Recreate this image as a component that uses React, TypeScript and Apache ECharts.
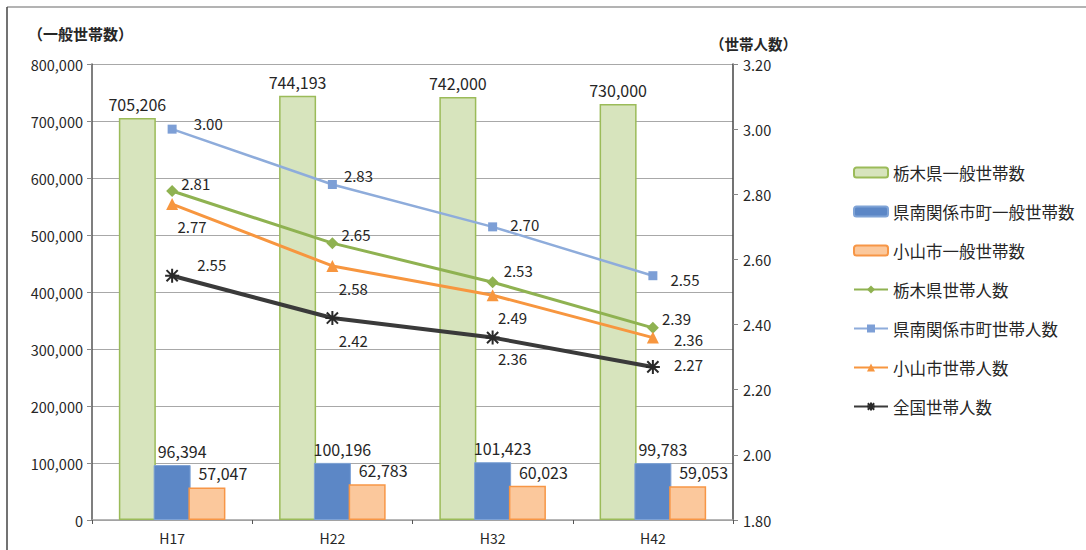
import React, { useEffect, useRef } from "react";
import * as echarts from "echarts";

const categories = ["H17", "H22", "H32", "H42"];
const tochigiHouseholds = [705206, 744193, 742000, 730000];
const kennanHouseholds = [96394, 100196, 101423, 99783];
const oyamaHouseholds = [57047, 62783, 60023, 59053];
const tochigiPersons = [2.81, 2.65, 2.53, 2.39];
const kennanPersons = [3.0, 2.83, 2.7, 2.55];
const oyamaPersons = [2.77, 2.58, 2.49, 2.36];
const nationalPersons = [2.55, 2.42, 2.36, 2.27];

const seriesNames = [
  "栃木県一般世帯数",
  "県南関係市町一般世帯数",
  "小山市一般世帯数",
  "栃木県世帯人数",
  "県南関係市町世帯人数",
  "小山市世帯人数",
  "全国世帯人数",
];

const leftTicks = { min: 0, max: 800000, interval: 100000 };
const rightTicks = { min: 1.8, max: 3.2, interval: 0.2 };

const FONT = "'Noto Sans CJK JP', 'Noto Sans', sans-serif";
const TXT = "#262626";

const asterisk =
  "path://M1,1 L9,9 M9,1 L1,9 M5,0 L5,10 M0,5 L10,5";

type Place = { position: string; offset: [number, number] };

const R = (ox: number, oy: number): Place => ({ position: "right", offset: [ox, oy] });
const B = (ox: number, oy: number): Place => ({ position: "bottom", offset: [ox, oy] });

const greenPlace: Place[] = [R(-2, -8), R(-2, -9), R(0, -12), R(-2, -9)];
const bluePlace: Place[] = [R(12, -6), R(2, -9), R(8, -2), R(8, 4)];
const orangePlace: Place[] = [B(20, 4), B(21, 4), B(20, 4), R(10, 2)];
const blackPlace: Place[] = [R(12, -11), B(21, 2), B(20, 0), R(8, -2)];

function lineData(values: number[], places: Place[]) {
  return values.map((v, i) => ({
    value: v,
    label: { position: places[i].position, offset: places[i].offset },
  }));
}

const fmtInt = (p: any) => Number(p.value).toLocaleString("en-US");
const fmt2 = (p: any) => Number(p.value).toFixed(2);

export default function App() {
  const ref = useRef<HTMLDivElement>(null);
  useEffect(() => {
    if (!ref.current) return;
    const chart = echarts.init(ref.current, null, { renderer: "svg" });
    const lineLabel = {
      show: true,
      formatter: fmt2,
      fontSize: 15,
      color: TXT,
      fontFamily: FONT,
      distance: 5,
    };
    const barLabel = {
      show: true,
      position: "top",
      formatter: fmtInt,
      fontSize: 16,
      color: TXT,
      fontFamily: FONT,
      distance: 6,
    };
    chart.setOption({
      animation: false,
      backgroundColor: "#ffffff",
      textStyle: { fontFamily: FONT },
      grid: { left: 92, right: 353, top: 64, bottom: 30, containLabel: false },
      legend: {
        orient: "vertical",
        left: 848,
        top: 159,
        itemWidth: 34,
        itemHeight: 10,
        itemGap: 22,
        data: seriesNames,
        textStyle: { fontSize: 16.5, color: TXT, fontFamily: FONT, lineHeight: 17 },
      },
      graphic: [
        {
          type: "text",
          left: 28,
          top: 26,
          style: { text: "（一般世帯数）", fontSize: 15, fill: TXT, fontFamily: FONT, fontWeight: "bold" },
        },
        {
          type: "text",
          left: 710,
          top: 36,
          style: { text: "（世帯人数）", fontSize: 14.5, fill: TXT, fontFamily: FONT, fontWeight: "bold" },
        },
        {
          type: "line",
          shape: { x1: 7, y1: 7, x2: 1086, y2: 7 },
          style: { stroke: "#9a9a9a", lineWidth: 1.5 },
          silent: true,
        },
        {
          type: "line",
          shape: { x1: 7, y1: 7, x2: 7, y2: 550 },
          style: { stroke: "#444", lineWidth: 1.5 },
          silent: true,
        },
      ],
      xAxis: {
        type: "category",
        data: categories,
        boundaryGap: true,
        axisLine: { lineStyle: { color: "#a0a0a0", width: 1.5 } },
        axisTick: { show: true, length: 4, lineStyle: { color: "#555" } },
        axisLabel: { fontSize: 14, color: TXT, fontFamily: FONT, margin: 11 },
      },
      yAxis: [
        {
          type: "value",
          ...leftTicks,
          position: "left",
          axisLine: { show: true, lineStyle: { color: "#555", width: 1.5 } },
          axisTick: { show: true, length: 5, lineStyle: { color: "#888" } },
          axisLabel: {
            fontSize: 14.5,
            color: TXT,
            fontFamily: FONT,
            margin: 9,
            formatter: (v: number) => v.toLocaleString("en-US"),
          },
          splitLine: { show: true, lineStyle: { color: "#a8a8a8", width: 1 } },
        },
        {
          type: "value",
          ...rightTicks,
          position: "right",
          axisLine: { show: true, lineStyle: { color: "#444", width: 1.5 } },
          axisTick: { show: true, length: 5, lineStyle: { color: "#888" } },
          axisLabel: {
            fontSize: 14.5,
            color: TXT,
            fontFamily: FONT,
            margin: 10,
            formatter: (v: number) => v.toFixed(2),
          },
          splitLine: { show: false },
        },
      ],
      series: [
        {
          name: seriesNames[0],
          type: "bar",
          yAxisIndex: 0,
          data: tochigiHouseholds,
          barWidth: 37,
          barGap: "-6%",
          itemStyle: { color: "#d7e4bd", borderColor: "#9bbb59", borderWidth: 1.5 },
          label: barLabel,
          z: 1,
        },
        {
          name: seriesNames[1],
          type: "bar",
          yAxisIndex: 0,
          data: kennanHouseholds,
          barWidth: 37,
          barGap: "-6%",
          itemStyle: { color: "#5c87c6", borderColor: "#7fa3d6", borderWidth: 1 },
          label: { ...barLabel, offset: [10, 0] },
          z: 2,
        },
        {
          name: seriesNames[2],
          type: "bar",
          yAxisIndex: 0,
          data: oyamaHouseholds,
          barWidth: 37,
          barGap: "-6%",
          itemStyle: { color: "#fbc89c", borderColor: "#f79646", borderWidth: 1.5 },
          label: { ...barLabel, offset: [16, 0] },
          z: 3,
        },
        {
          name: seriesNames[3],
          type: "line",
          yAxisIndex: 1,
          data: lineData(tochigiPersons, greenPlace),
          symbol: "diamond",
          symbolSize: 12,
          lineStyle: { color: "#8fb251", width: 3 },
          itemStyle: { color: "#8fb251" },
          label: lineLabel,
          z: 5,
        },
        {
          name: seriesNames[4],
          type: "line",
          yAxisIndex: 1,
          data: lineData(kennanPersons, bluePlace),
          symbol: "rect",
          symbolSize: 9,
          lineStyle: { color: "#8eacdb", width: 2.5 },
          itemStyle: { color: "#7d9fd6" },
          label: lineLabel,
          z: 5,
        },
        {
          name: seriesNames[5],
          type: "line",
          yAxisIndex: 1,
          data: lineData(oyamaPersons, orangePlace),
          symbol: "triangle",
          symbolSize: 12,
          lineStyle: { color: "#f7963f", width: 3 },
          itemStyle: { color: "#f7963f" },
          label: lineLabel,
          z: 5,
        },
        {
          name: seriesNames[6],
          type: "line",
          yAxisIndex: 1,
          data: lineData(nationalPersons, blackPlace),
          symbol: asterisk,
          symbolSize: 14,
          lineStyle: { color: "#3a3a3a", width: 4 },
          itemStyle: { color: "#2a2a2a", borderColor: "#2a2a2a", borderWidth: 2 },
          label: lineLabel,
          z: 6,
        },
      ],
    });
    return () => chart.dispose();
  }, []);
  return (
    <div
      ref={ref}
      style={{ position: "fixed", left: 0, top: 0, width: 1086, height: 550 }}
    />
  );
}
